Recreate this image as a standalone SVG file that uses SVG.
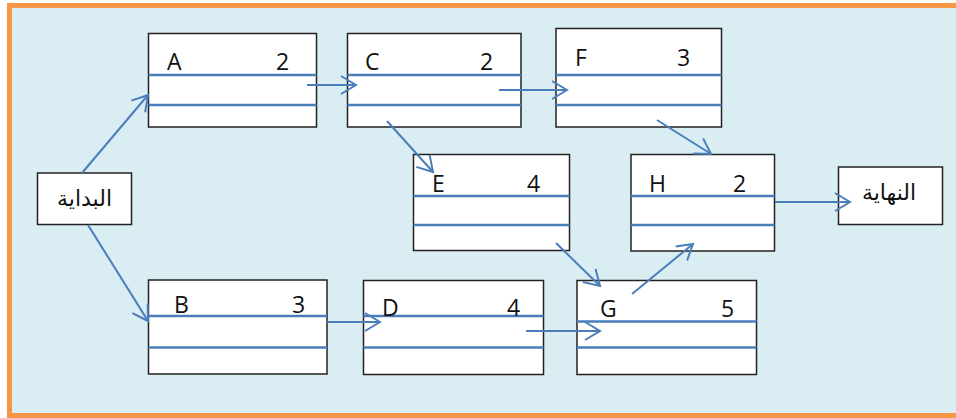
<svg xmlns="http://www.w3.org/2000/svg" width="956" height="418" viewBox="0 0 956 418">
<defs>
<marker id="arr" markerUnits="userSpaceOnUse" markerWidth="20" markerHeight="24" viewBox="-16 -12 20 24" refX="0" refY="0" orient="auto">
<path d="M-15,-9 L0,0 L-15,9" fill="none" stroke="#4a7ebb" stroke-width="2"/>
</marker>
</defs>
<style>
.box{fill:#fff;stroke:#222;stroke-width:1.5}
.sep{stroke:#4a7ebb;stroke-width:2.5}
.t{font-family:"Open Sans","Liberation Sans",sans-serif;font-size:23px;fill:#111}
.ar{font-family:"DejaVu Sans","Noto Sans",sans-serif;font-size:22px;fill:#111}
.c{stroke:#4a7ebb;stroke-width:2;fill:none;marker-end:url(#arr)}
</style>
<rect x="9.5" y="5.5" width="960" height="410" fill="#daedf3" stroke="#f79646" stroke-width="5"/>
<g id="start"><rect class="box" x="37.5" y="173" width="94" height="51.5"/><text class="ar" x="84.5" y="206" text-anchor="middle" direction="rtl">البداية</text></g>
<g id="end"><rect class="box" x="838.5" y="167" width="104" height="57.5"/><text class="ar" x="889" y="200" text-anchor="middle" direction="rtl">النهاية</text></g>
<g id="A"><rect class="box" x="148.5" y="33.5" width="168" height="93.5"/><line class="sep" x1="148.5" y1="75" x2="316.5" y2="75"/><line class="sep" x1="148.5" y1="105" x2="316.5" y2="105"/><text class="t" x="167" y="70">A</text><text class="t" x="276" y="70">2</text></g>
<g id="C"><rect class="box" x="347.5" y="33.5" width="173.5" height="93.5"/><line class="sep" x1="347.5" y1="75" x2="521" y2="75"/><line class="sep" x1="347.5" y1="105" x2="521" y2="105"/><text class="t" x="365" y="70">C</text><text class="t" x="480" y="70">2</text></g>
<g id="F"><rect class="box" x="556" y="28.5" width="165.5" height="98.5"/><line class="sep" x1="556" y1="75" x2="721.5" y2="75"/><line class="sep" x1="556" y1="105" x2="721.5" y2="105"/><text class="t" x="575" y="66">F</text><text class="t" x="677" y="66">3</text></g>
<g id="E"><rect class="box" x="413.5" y="154.5" width="156" height="96"/><line class="sep" x1="413.5" y1="196" x2="569.5" y2="196"/><line class="sep" x1="413.5" y1="225" x2="569.5" y2="225"/><text class="t" x="432" y="192">E</text><text class="t" x="527" y="192">4</text></g>
<g id="H"><rect class="box" x="631" y="154.5" width="143.5" height="96.5"/><line class="sep" x1="631" y1="196" x2="774.5" y2="196"/><line class="sep" x1="631" y1="225" x2="774.5" y2="225"/><text class="t" x="649" y="192">H</text><text class="t" x="733" y="192">2</text></g>
<g id="B"><rect class="box" x="148.5" y="280" width="178.5" height="94"/><line class="sep" x1="148.5" y1="316" x2="327" y2="316"/><line class="sep" x1="148.5" y1="347.5" x2="327" y2="347.5"/><text class="t" x="174" y="313">B</text><text class="t" x="292" y="313">3</text></g>
<g id="D"><rect class="box" x="363.5" y="280.5" width="180" height="94"/><line class="sep" x1="363.5" y1="316" x2="543.5" y2="316"/><line class="sep" x1="363.5" y1="347.5" x2="543.5" y2="347.5"/><text class="t" x="382" y="316">D</text><text class="t" x="507" y="316">4</text></g>
<g id="G"><rect class="box" x="577" y="280.5" width="179.5" height="94"/><line class="sep" x1="577" y1="321.5" x2="756.5" y2="321.5"/><line class="sep" x1="577" y1="347.5" x2="756.5" y2="347.5"/><text class="t" x="600" y="317">G</text><text class="t" x="721" y="317">5</text></g>
<g id="connectors">
<line class="c" x1="82" y1="173" x2="148" y2="95"/>
<line class="c" x1="88" y1="225" x2="148" y2="321"/>
<line class="c" x1="307" y1="85" x2="356" y2="85"/>
<line class="c" x1="499" y1="90" x2="567" y2="90"/>
<line class="c" x1="387" y1="121" x2="433" y2="172"/>
<line class="c" x1="657" y1="120" x2="711" y2="154"/>
<line class="c" x1="556" y1="243" x2="600" y2="286"/>
<line class="c" x1="632" y1="294" x2="693" y2="244"/>
<line class="c" x1="775" y1="202" x2="850" y2="202"/>
<line class="c" x1="327" y1="322" x2="380" y2="322"/>
<line class="c" x1="526" y1="331" x2="600" y2="331"/>
</g>
</svg>
